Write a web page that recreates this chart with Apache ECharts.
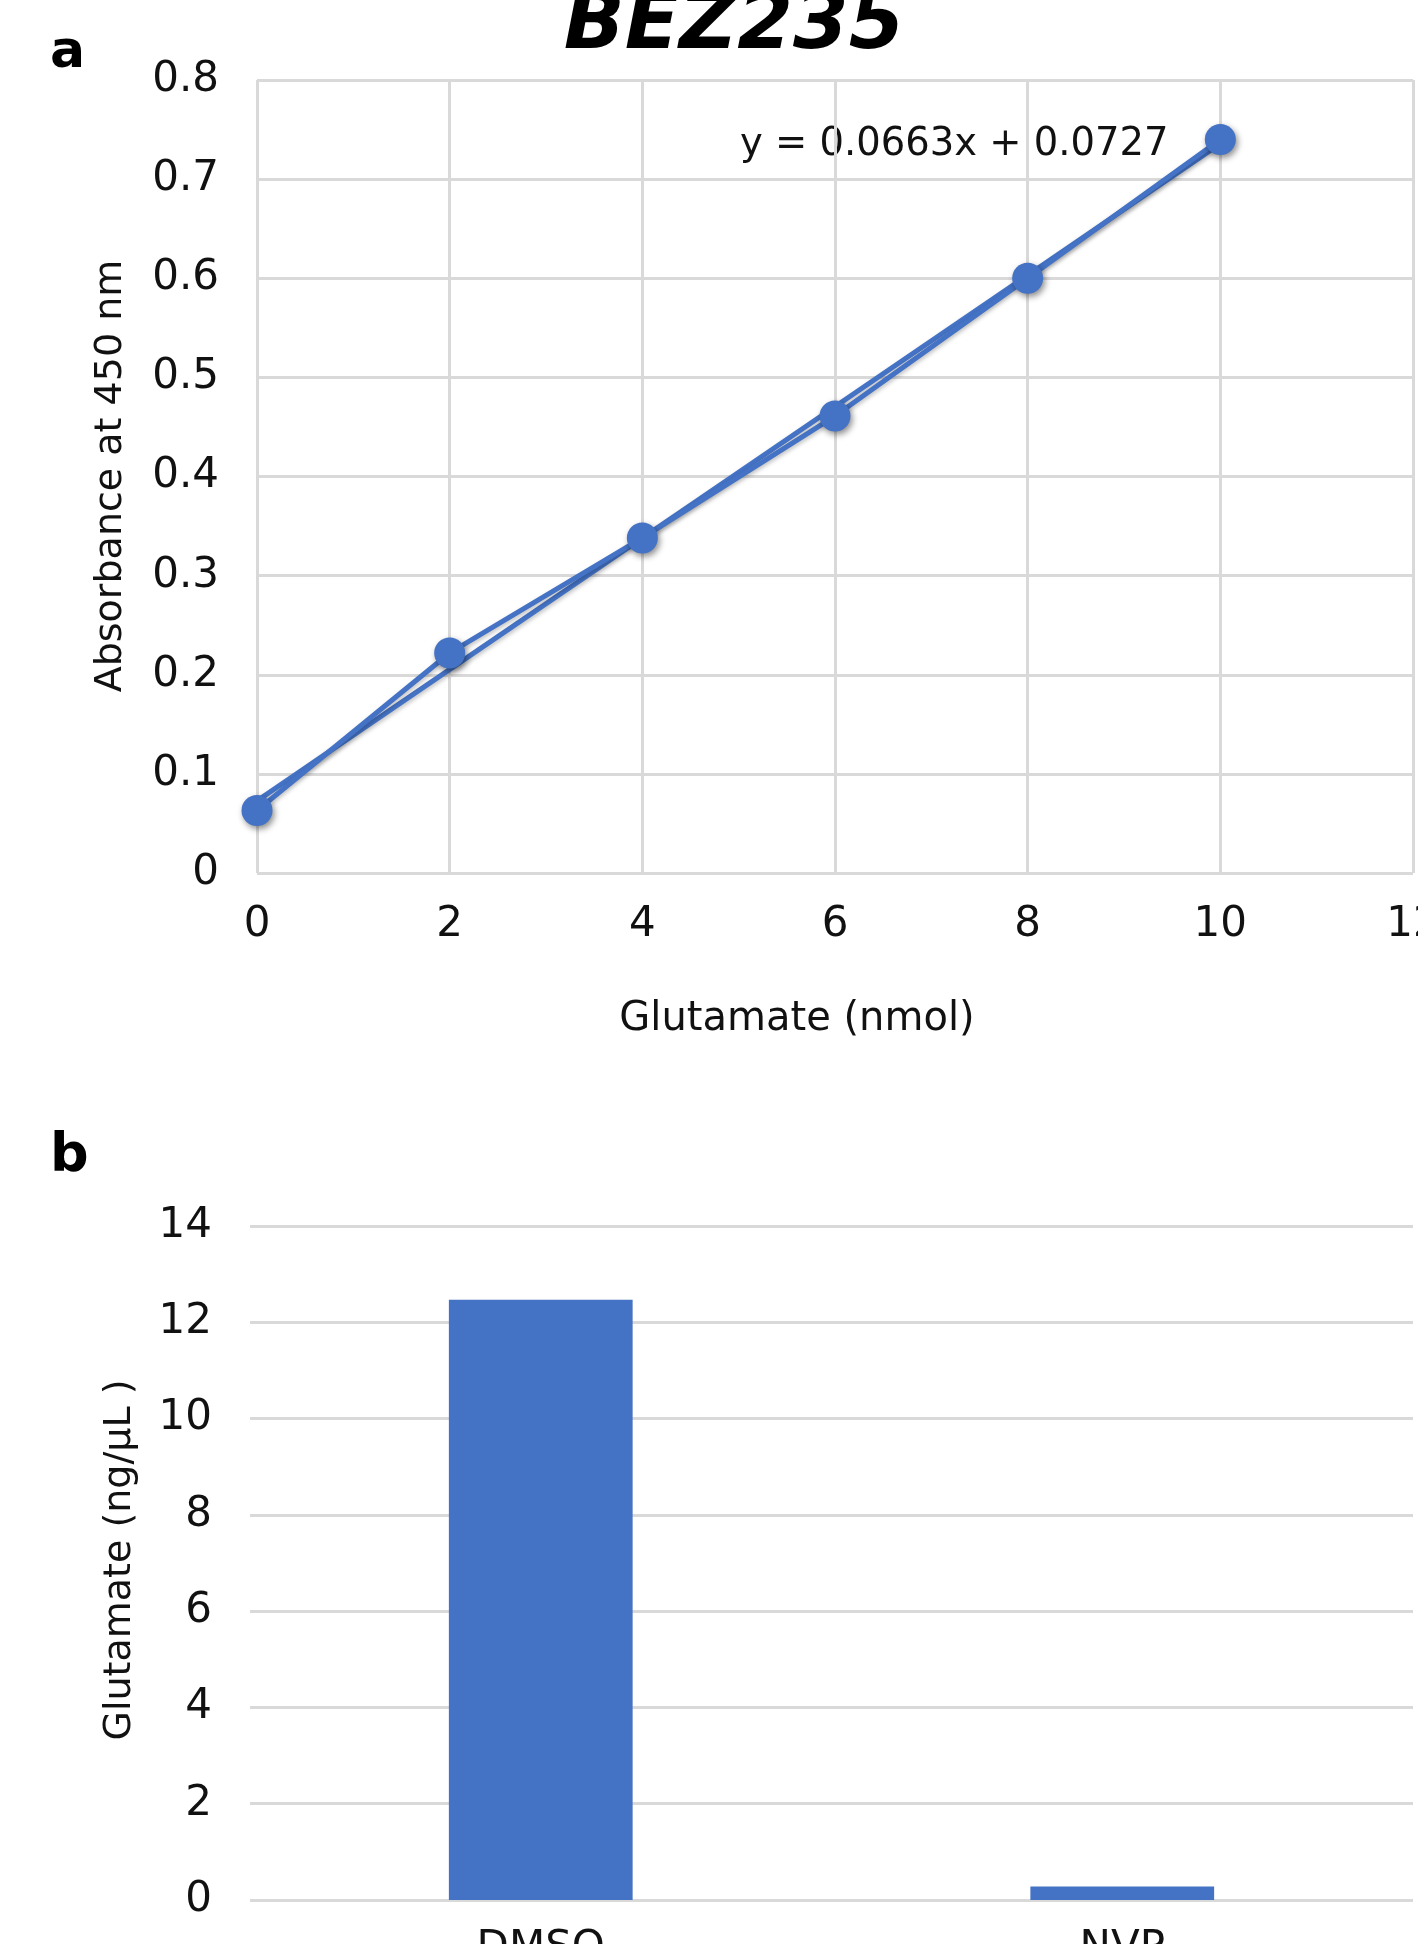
<!DOCTYPE html>
<html>
<head>
<meta charset="utf-8">
<script src="https://cdn.jsdelivr.net/npm/echarts@6/dist/echarts.min.js"></script>
<style>
  html, body { margin: 0; padding: 0; background: #fff; }
  #chart { width: 1418px; height: 1944px; }
</style>
</head>
<body>
<div id="chart"></div>
<script>
// panel a: standard curve
const glutamateNmol = [0, 2, 4, 6, 8, 10]
const absorbance = [0.063, 0.222, 0.338, 0.461, 0.600, 0.740]
const trendSlope = 0.0663
const trendIntercept = 0.0727

// panel b: measured glutamate
const groups = ['DMSO', 'NVP']
const glutamateConc = [12.47, 0.28]

const blue = '#4472c4'
const gridGray = '#d9d9d9'
const textColor = '#111'
const font = '"DejaVu Sans", sans-serif'

const xMin = Math.min(...glutamateNmol)
const xMax = Math.max(...glutamateNmol)
const trendData = [
  [xMin, trendIntercept + trendSlope * xMin],
  [xMax, trendIntercept + trendSlope * xMax]
]

const chart = echarts.init(document.getElementById('chart'))

chart.setOption({
  animation: false,
  backgroundColor: '#fff',
  textStyle: { fontFamily: font, color: textColor },
  grid: [
    { left: 257, top: 80, right: 5, bottom: 1071, outerBoundsMode: 'none', containLabel: false },
    { left: 250, top: 1226, right: 5, bottom: 44, outerBoundsMode: 'none', containLabel: false }
  ],
  xAxis: [
    {
      gridIndex: 0,
      type: 'value',
      min: 0,
      max: 12,
      interval: 2,
      axisLine: { show: false },
      axisTick: { show: false },
      axisLabel: { fontSize: 42, margin: 31, color: textColor, fontFamily: font },
      splitLine: { show: true, lineStyle: { color: gridGray, width: 3 } }
    },
    {
      gridIndex: 1,
      type: 'category',
      data: groups,
      axisLine: { show: false },
      axisTick: { show: false },
      axisLabel: { fontSize: 42, margin: 28, color: textColor, fontFamily: font },
      splitLine: { show: false }
    }
  ],
  yAxis: [
    {
      gridIndex: 0,
      type: 'value',
      min: 0,
      max: 0.8,
      interval: 0.1,
      axisLine: { show: false },
      axisTick: { show: false },
      axisLabel: { fontSize: 42, margin: 38, color: textColor, fontFamily: font },
      splitLine: { show: true, lineStyle: { color: gridGray, width: 3 } }
    },
    {
      gridIndex: 1,
      type: 'value',
      min: 0,
      max: 14,
      interval: 2,
      axisLine: { show: false },
      axisTick: { show: false },
      axisLabel: { fontSize: 42, margin: 38, color: textColor, fontFamily: font },
      splitLine: { show: true, lineStyle: { color: gridGray, width: 3 } }
    }
  ],
  series: [
    {
      name: 'Trend',
      type: 'line',
      xAxisIndex: 0,
      yAxisIndex: 0,
      data: trendData,
      showSymbol: false,
      lineStyle: {
        color: blue, width: 5,
        shadowColor: 'rgba(0,0,0,0.25)', shadowBlur: 4, shadowOffsetX: 1, shadowOffsetY: 2
      },
      z: 2
    },
    {
      name: 'Absorbance',
      type: 'line',
      xAxisIndex: 0,
      yAxisIndex: 0,
      data: glutamateNmol.map((x, i) => [x, absorbance[i]]),
      symbol: 'circle',
      symbolSize: 31,
      lineStyle: {
        color: blue, width: 5,
        shadowColor: 'rgba(0,0,0,0.25)', shadowBlur: 4, shadowOffsetX: 1, shadowOffsetY: 2
      },
      itemStyle: {
        color: blue,
        shadowColor: 'rgba(0,0,0,0.45)', shadowBlur: 6, shadowOffsetX: 2, shadowOffsetY: 3
      },
      z: 3
    },
    {
      name: 'Glutamate',
      type: 'bar',
      xAxisIndex: 1,
      yAxisIndex: 1,
      data: glutamateConc,
      barWidth: '31.6%',
      itemStyle: { color: blue }
    }
  ],
  graphic: [
    {
      type: 'text', x: 734, y: -13,
      style: {
        text: 'BEZ235', align: 'center', verticalAlign: 'top',
        font: 'italic bold 80px "DejaVu Sans", sans-serif', fill: '#000'
      }
    },
    {
      type: 'text', x: 50, y: 27,
      style: { text: 'a', verticalAlign: 'top', font: 'bold 52px "DejaVu Sans", sans-serif', fill: '#000' }
    },
    {
      type: 'text', x: 50, y: 1130,
      style: { text: 'b', verticalAlign: 'top', font: 'bold 54px "DejaVu Sans", sans-serif', fill: '#000' }
    },
    {
      type: 'text', x: 740, y: 145,
      style: {
        text: 'y = 0.0663x + 0.0727', align: 'left', verticalAlign: 'middle',
        font: '38.5px "DejaVu Sans", sans-serif', fill: textColor
      }
    },
    {
      type: 'text', x: 797, y: 1020,
      style: {
        text: 'Glutamate (nmol)', align: 'center', verticalAlign: 'middle',
        font: '40px "DejaVu Sans", sans-serif', fill: textColor
      }
    },
    {
      type: 'text', x: 111, y: 476, rotation: Math.PI / 2,
      style: {
        text: 'Absorbance at 450 nm', align: 'center', verticalAlign: 'middle',
        font: '38px "DejaVu Sans", sans-serif', fill: textColor
      }
    },
    {
      type: 'text', x: 120, y: 1560, rotation: Math.PI / 2,
      style: {
        text: 'Glutamate (ng/µL )', align: 'center', verticalAlign: 'middle',
        font: '38px "DejaVu Sans", sans-serif', fill: textColor
      }
    }
  ]
})

window.addEventListener('resize', () => chart.resize())
</script>
</body>
</html>
